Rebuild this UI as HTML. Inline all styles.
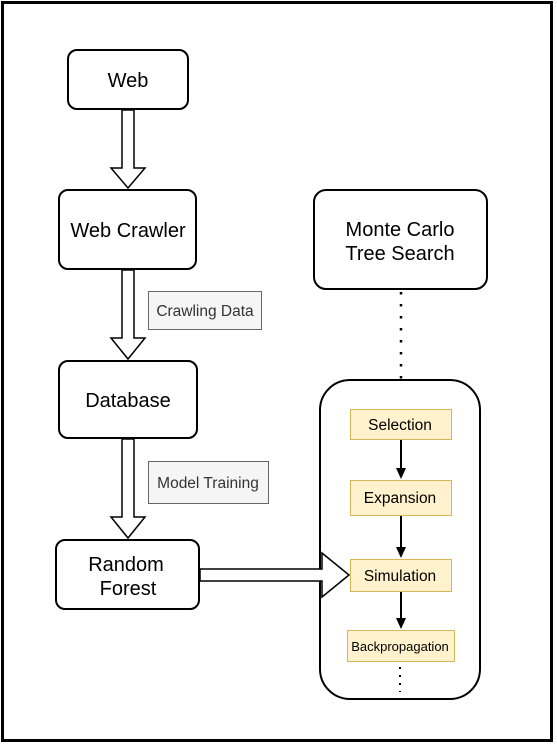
<!DOCTYPE html>
<html><head><meta charset="utf-8"><style>
html,body{margin:0;padding:0;background:#fff;width:557px;height:745px;overflow:hidden}
svg{display:block}
text{font-family:"Liberation Sans",Arial,sans-serif;fill:#000}
</style></head><body>
<svg width="557" height="745" viewBox="0 0 557 745">
<rect x="2.5" y="2.5" width="549" height="738" fill="#fff" stroke="#000" stroke-width="3"/>
<g fill="#fff" stroke="#000" stroke-width="2">
<rect x="68" y="50" width="120" height="59" rx="9"/>
<rect x="59" y="190" width="137" height="79" rx="9"/>
<rect x="59" y="361" width="138" height="77" rx="9"/>
<rect x="56" y="540" width="143" height="69" rx="9"/>
<rect x="314" y="190" width="173" height="99" rx="12"/>
<rect x="320" y="380" width="160" height="319" rx="30"/>
</g>
<g fill="#fff" stroke="#000" stroke-width="1.5" stroke-linejoin="miter">
<polygon points="122,110 134,110 134,168 145,168 128,188 111,168 122,168"/>
<polygon points="122,270 134,270 134,338 145,338 128,359 111,338 122,338"/>
<polygon points="122,439 134,439 134,517 145,517 128,538 111,517 122,517"/>
<polygon points="200,569 322,569 322,553 349,575 322,597 322,581 200,581"/>
</g>
<rect x="148.5" y="291.5" width="113" height="38" fill="#f5f5f5" stroke="#666"/>
<rect x="148.5" y="461.5" width="120" height="42" fill="#f5f5f5" stroke="#666"/>
<g fill="#fff2cc" stroke="#d6b656">
<rect x="350.5" y="409.5" width="101" height="30"/>
<rect x="350.5" y="480.5" width="101" height="35"/>
<rect x="350.5" y="559.5" width="101" height="32"/>
<rect x="347.5" y="630.5" width="107" height="31"/>
</g>
<line x1="401" y1="292" x2="401" y2="380" stroke="#000" stroke-width="2.5" stroke-dasharray="2.5,9.5"/>
<line x1="400" y1="667" x2="400" y2="692" stroke="#000" stroke-width="2" stroke-dasharray="2,6"/>
<g stroke="#000" stroke-width="2">
<line x1="401" y1="440" x2="401" y2="470"/>
<line x1="401" y1="516" x2="401" y2="549"/>
<line x1="401" y1="592" x2="401" y2="620"/>
</g>
<g fill="#000">
<polygon points="396,468 406,468 401,479"/>
<polygon points="396,547 406,547 401,558"/>
<polygon points="396,618 406,618 401,629"/>
</g>
<g font-size="20" text-anchor="middle">
<text x="128" y="87">Web</text>
<text x="128" y="237">Web Crawler</text>
<text x="128" y="407">Database</text>
<text x="126" y="571">Random</text>
<text x="128" y="595">Forest</text>
<text x="400" y="236">Monte Carlo</text>
<text x="400" y="260">Tree Search</text>
</g>
<g font-size="15.5" text-anchor="middle">
<text x="205" y="316" style="fill:#333">Crawling Data</text>
<text x="208" y="488" style="fill:#333">Model Training</text>
<text x="400" y="430">Selection</text>
<text x="400" y="503">Expansion</text>
<text x="400" y="581">Simulation</text>
<text x="400" y="651" font-size="13">Backpropagation</text>
</g>
</svg>
</body></html>
